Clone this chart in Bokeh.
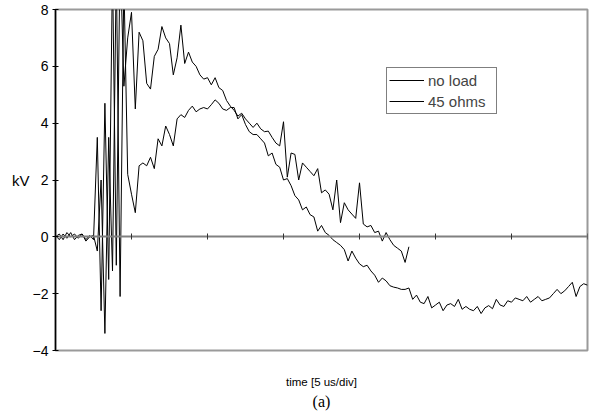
from bokeh.plotting import figure
from bokeh.models import Range1d, FixedTicker, Legend, LegendItem, Title, LinearAxis
from bokeh.embed import file_html
from bokeh.resources import INLINE

# ---- data ----
sample_interval_us = 0.25
no_load_kv = [
    0.0, 0.1, -0.1, 0.15, 0.0, 0.1, -0.05, 0.1, -0.1, 0.05, -0.1,
    3.5, -2.6, 4.7, -1.5, 9.5, -1.0, 10.0, 5.3, 7.0, 7.9, 4.5, 7.2,
    6.9, 5.4, 5.2, 6.35, 6.6, 7.4, 7.0, 6.8, 5.7, 6.3,
    7.45, 6.1, 6.5, 6.15, 6.0, 5.7, 5.55, 5.6, 5.35, 5.6,
    5.25, 5.15, 4.8, 4.6, 4.45, 4.25, 4.35, 4.15, 4.0, 3.85,
    4.0, 3.8, 3.7, 3.72, 3.5, 3.3, 3.2, 4.05, 2.1, 2.95,
    2.9, 2.0, 2.6, 2.45, 2.3, 2.15, 2.4, 1.55, 1.65, 1.5,
    0.95, 2.0, 0.5, 1.2, 0.95, 0.8, 0.65, 1.9, 0.45, 0.35,
    0.4, 0.15, 0.2, -0.15, 0.15, -0.1, -0.3, -0.4, -0.5, -0.9, -0.35,
]
ohms45_kv = [
    0.05, -0.1, 0.1, -0.05, 0.15, -0.1, 0.05, 0.1, -0.15, 0.0, 0.05,
    -0.5, 2.0, -3.4, 3.5, -1.2, 9.5, -2.1, 9.0, 2.2, 1.5, 0.85, 2.5,
    2.6, 2.5, 2.8, 2.4, 3.45, 3.2, 3.9, 3.6, 3.2, 4.15,
    4.3, 4.2, 4.45, 4.6, 4.4, 4.5, 4.55, 4.5, 4.65, 4.82,
    4.7, 4.5, 4.45, 4.55, 4.55, 4.15, 4.3, 3.95, 3.7, 3.6,
    3.6, 3.45, 3.3, 2.85, 2.95, 2.55, 2.45, 2.0, 2.05, 1.8,
    1.45, 1.3, 0.95, 1.05, 0.78, 0.7, 0.2, 0.4, 0.15, 0.05,
    -0.1, -0.2, -0.3, -0.45, -0.85, -0.5, -0.75, -0.95, -1.05, -1.0,
    -1.2, -1.35, -1.6, -1.45, -1.55, -1.72, -1.77, -1.8, -1.85, -1.85,
    -1.8, -2.2, -2.05, -2.3, -2.35, -2.1, -2.5, -2.4, -2.3, -2.6,
    -2.4, -2.35, -2.45, -2.2, -2.55, -2.45, -2.55, -2.6, -2.45, -2.7,
    -2.5, -2.42, -2.53, -2.2, -2.4, -2.45, -2.25, -2.3, -2.15, -2.2,
    -2.25, -2.1, -2.3, -2.2, -2.1, -2.25, -2.2, -2.15, -2.0, -1.85,
    -2.0, -1.9, -1.75, -1.6, -2.1, -1.75, -1.65, -1.7,
]
series_names = ["no load", "45 ohms"]
y_ticks = [-4, -2, 0, 2, 4, 6, 8]
x_ticks = [0, 5, 10, 15, 20, 25, 30, 35]

t_no_load = [i * sample_interval_us for i in range(len(no_load_kv))]
t_45 = [i * sample_interval_us for i in range(len(ohms45_kv))]

FONT = "Liberation Sans"

p = figure(width=589, height=419, output_backend="svg", toolbar_location=None,
           x_range=Range1d(0, 35), y_range=Range1d(-4, 8),
           min_border_left=55, min_border_right=2, min_border_top=9,
           min_border_bottom=69)
p.background_fill_color = "white"
p.border_fill_color = "white"
p.outline_line_color = "#9a9a9a"
p.outline_line_width = 2
p.xgrid.visible = False
p.ygrid.visible = False

# y axis
yax = p.yaxis[0]
yax.ticker = FixedTicker(ticks=y_ticks)
yax.axis_line_color = "black"
yax.axis_line_width = 1.5
yax.major_tick_line_color = "black"
yax.major_tick_in = 3
yax.major_tick_out = 3
yax.minor_tick_line_color = None
yax.major_label_text_font = FONT
yax.major_label_text_font_size = "14px"
yax.major_label_text_color = "black"
yax.major_label_standoff = 4
yax.axis_label = "kV"
yax.axis_label_text_font = FONT
yax.axis_label_text_font_size = "15px"
yax.axis_label_text_font_style = "normal"
yax.axis_label_text_color = "black"
yax.axis_label_standoff = 0
try:
    yax.axis_label_orientation = "horizontal"
except Exception:
    pass

# x axis drawn along the zero line
xax = p.xaxis[0]
xax.fixed_location = 0
xax.ticker = FixedTicker(ticks=x_ticks)
xax.axis_line_color = "#808080"
xax.axis_line_width = 2
xax.major_tick_line_color = "#333333"
xax.major_tick_in = 3
xax.major_tick_out = 3
xax.minor_tick_line_color = None
xax.major_label_text_font_size = "0px"
xax.major_label_text_color = None

# axis that only carries the time caption
cap = LinearAxis(ticker=FixedTicker(ticks=[]), axis_line_color=None,
                 major_tick_line_color=None, minor_tick_line_color=None,
                 major_label_text_font_size="0px",
                 axis_label="time [5 us/div]", axis_label_text_font=FONT,
                 axis_label_text_font_size="11.5px", axis_label_text_font_style="normal",
                 axis_label_text_color="black", axis_label_standoff=25)
p.add_layout(cap, "below")

p.add_layout(Title(text="(a)", align="center", text_font="Liberation Serif",
                   text_font_size="16px", text_font_style="normal",
                   text_color="black", standoff=0), "below")

r1 = p.line(t_no_load, no_load_kv, line_color="black", line_width=1)
r2 = p.line(t_45, ohms45_kv, line_color="black", line_width=1)

legend = Legend(items=[LegendItem(label=series_names[0], renderers=[r1]),
                       LegendItem(label=series_names[1], renderers=[r2])],
                location=(331, 236))
legend.border_line_color = "black"
legend.border_line_width = 1
legend.background_fill_color = "white"
legend.background_fill_alpha = 1
legend.label_text_font = FONT
legend.label_text_font_size = "15px"
legend.glyph_width = 35
legend.glyph_height = 20
legend.label_height = 20
legend.label_width = 66
legend.label_standoff = 4
legend.spacing = 1
legend.padding = 2
legend.margin = 0
p.add_layout(legend, "center")

open("out.html", "w").write(file_html(p, INLINE))
